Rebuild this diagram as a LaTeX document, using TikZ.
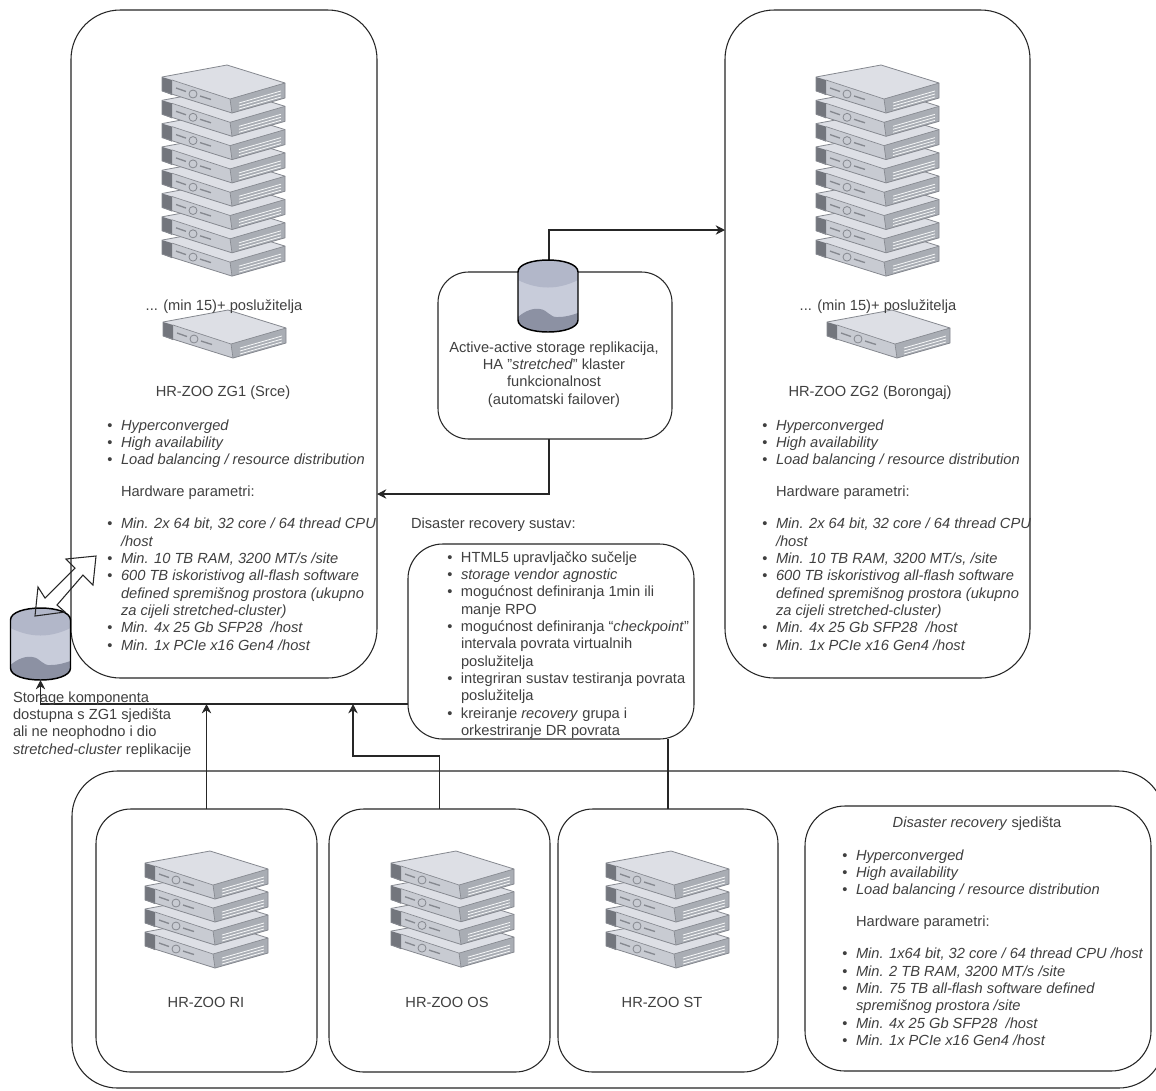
\documentclass[tikz,border=0pt]{standalone}
\usepackage{fontspec}
\setmainfont{Liberation Sans}
\usetikzlibrary{arrows.meta}
\definecolor{txt}{HTML}{404040}
\definecolor{srvtop}{HTML}{DDDFE5}
\definecolor{srvface}{HTML}{C8CBD2}
\definecolor{srvside}{HTML}{A9ADB4}
\definecolor{srvedge}{HTML}{85888F}
\definecolor{srvear}{HTML}{73767D}
\definecolor{cylmid}{HTML}{C8CCDA}
\definecolor{cyltop}{HTML}{B2B7C9}
\definecolor{cylbot}{HTML}{8C91A3}
\tikzset{
  boxstyle/.style={draw=black!85,line width=0.8pt,fill=white,inner sep=0pt,outer sep=0pt},
  conn/.style={draw=black!85,line width=0.8pt},
  arr/.style={conn,-{Stealth[length=7pt,width=7pt]}},
  label/.style={font=\fontsize{11}{13}\selectfont,text=txt,inner sep=0pt,outer sep=0pt},
  block/.style={label,align=left,anchor=north west},
  cblock/.style={label,align=center}
}
\newcommand{\bx}[6]{\node[boxstyle,rounded corners=#6pt,minimum width={(#4-#2)*0.75pt},minimum height={(#5-#3)*0.75pt}] (#1) at ({(#2+#4)/2},{(#3+#5)/2}) {};}
\newcommand{\bl}[1]{\leavevmode\llap{\textbullet\hspace{6.4pt}}\strut\textit{#1}}
\newcommand{\srv}[2]{%
\begin{scope}[shift={(#1,#2)}]
 \fill[srvtop] (-65,12)--(0,0)--(58,18)--(3,34)--cycle;
 \fill[srvface] (-65,12)--(3,34)--(5,48)--(-65,26)--cycle;
 \fill[srvside] (3,34)--(58,18)--(58,33)--(5,48)--cycle;
 \fill[srvear] (-65,12)--(-55,15)--(-55,30)--(-65,26)--cycle;
 \draw[srvedge,line width=0.6pt,line join=round] (-65,12)--(0,0)--(58,18)--(58,33)--(5,48)--(-65,26)--cycle;
 \draw[srvedge,line width=0.5pt] (-55,15)--(3,34)--(58,18) (3,34)--(5,48);
 \draw[white!90!srvside,line width=0.6pt] (12,38)--(54,26) (12,41)--(54,29) (12,44)--(54,32);
 \draw[srvedge,line width=0.6pt,fill=srvface] (-34,29) circle[radius=4];
 \draw[srvedge,line width=1pt] (-51,23)--(-41,26.5) (-27,31)--(-16,34.5);
\end{scope}}
\newcommand{\srvstack}[4]{\foreach \i in {#4,...,0}{\pgfmathsetmacro{\yy}{#2+\i*#3}\srv{#1}{\yy}}}
\newcommand{\srvstackb}[3]{\foreach \i in {3,2,1,0}{\pgfmathsetmacro{\yy}{#2+\i*#3}\srv{#1}{\yy}}}
\newcommand{\cyl}[2]{%
\begin{scope}[shift={(#1,#2)}]
 \begin{scope}
  \clip (0,12) .. controls (0,-4) and (60,-4) .. (60,12) -- (60,60) .. controls (60,76) and (0,76) .. (0,60) -- cycle;
  \fill[cylmid] (0,-2) rectangle (60,74);
  \fill[cyltop] (0,-2) rectangle (60,20) (0,20) .. controls (20,30) and (40,30) .. (60,20) -- cycle;
  \fill[cylbot] (0,57) .. controls (8,50) and (16,48) .. (22,49) .. controls (30,50) and (32,58) .. (40,57) .. controls (48,57) and (54,55) .. (60,53) -- (60,74) -- (0,74) -- cycle;
 \end{scope}
 \draw[black,line width=1.1pt] (0,12) .. controls (0,-4) and (60,-4) .. (60,12) -- (60,60) .. controls (60,76) and (0,76) .. (0,60) -- cycle;
\end{scope}}
\begin{document}
\begin{tikzpicture}[x=0.75pt,y=-0.75pt]
\useasboundingbox (0,0) rectangle (1156,1090);
\fill[white] (0,0) rectangle (1156,1090);
% boxes
\bx{zgone}{71}{10}{377}{678}{37}
\bx{zgtwo}{725}{10}{1030}{678}{37}
\bx{rep}{438}{272}{672}{439}{23}
\bx{drb}{408}{544}{694}{739}{26}
\bx{outer}{72}{771}{1164}{1088}{34}
\bx{ri}{96}{809}{317}{1072}{26}
\bx{os}{329}{809}{550}{1072}{26}
\bx{st}{558}{809}{778}{1072}{26}
\bx{drs}{805}{806}{1151}{1071}{30}
% servers
\srvstack{227}{65}{23.3}{7}
\srv{228}{310}
\srvstack{881}{65}{23.3}{7}
\srv{892}{310}
\srvstackb{210}{851}{23}
\srvstackb{456}{851}{22.7}
\srvstackb{671}{851}{23}
% anchors for storage and connectors
\node[inner sep=0pt,outer sep=0pt,minimum width=45pt,minimum height=54pt] (cylrep) at (549,296) {};
\node[inner sep=0pt,outer sep=0pt,minimum width=45pt,minimum height=54pt] (cylzg) at (40.5,644) {};
\coordinate (bus) at (0,704);
\coordinate (repup) at (0,230);
\coordinate (repdown) at (0,494);
\coordinate (oshop) at (0,756);
\coordinate (osbus) at (353,0);
% connectors
\draw[arr] (cylrep.north) |- (zgtwo.west |- repup);
\draw[arr] (cylrep.south |- rep.south) |- (zgone.east |- repdown);
\draw[arr] (drb.west |- bus) -| (cylzg.south);
\draw[arr] (ri.north) -- (ri.north |- bus);
\draw[arr] (os.north) |- (osbus |- oshop) -- (osbus |- bus);
\draw[conn] (st.north) -- (st.north |- drb.south);
\cyl{518}{260}
\cyl{10.5}{608}
% double hollow arrow
\draw[black!85,line width=0.8pt,line join=miter] (96,556)--(66,559)--(75,568)--(45,598)--(38,587)--(35,616)--(65,612)--(57,605)--(83,575)--(93,585)--cycle;
% labels
\node[cblock] (minone) at (224,307) {... (min 15)+ poslužitelja};
\node[cblock] (mintwo) at (878,307) {... (min 15)+ poslužitelja};
\node[cblock] (nameone) at (223,393) {HR-ZOO ZG1 (Srce)};
\node[cblock] (nametwo) at (870,393) {HR-ZOO ZG2 (Borongaj)};
\node[block] (listone) at (121,418) {\bl{Hyperconverged}\\\bl{High availability}\\\bl{Load balancing / resource distribution}\\[11pt]\strut Hardware parametri:\\[11pt]\bl{Min. 2x 64 bit, 32 core / 64 thread CPU}\\\strut\textit{/host}\\\bl{Min. 10 TB RAM, 3200 MT/s /site}\\\bl{600 TB iskoristivog all-flash software}\\\strut\textit{defined spremišnog prostora (ukupno}\\\strut\textit{za cijeli stretched-cluster)}\\\bl{Min. 4x 25 Gb SFP28~ /host}\\\bl{Min. 1x PCIe x16 Gen4 /host}};
\node[block] (listtwo) at (776,418) {\bl{Hyperconverged}\\\bl{High availability}\\\bl{Load balancing / resource distribution}\\[11pt]\strut Hardware parametri:\\[11pt]\bl{Min. 2x 64 bit, 32 core / 64 thread CPU}\\\strut\textit{/host}\\\bl{Min. 10 TB RAM, 3200 MT/s, /site}\\\bl{600 TB iskoristivog all-flash software}\\\strut\textit{defined spremišnog prostora (ukupno}\\\strut\textit{za cijeli stretched-cluster)}\\\bl{Min. 4x 25 Gb SFP28~ /host}\\\bl{Min. 1x PCIe x16 Gen4 /host}};
\node[cblock,anchor=north] (reptext) at (554,340) {\strut Active-active storage replikacija,\\\strut HA "\textit{stretched}" klaster\\\strut funkcionalnost\\\strut (automatski failover)};
\node[label,anchor=west] (drtitle) at (411,525) {Disaster recovery sustav:};
\node[block] (drlist) at (461,550) {\leavevmode\llap{\textbullet\hspace{6.4pt}}\strut HTML5 upravljačko sučelje\\\bl{storage vendor agnostic}\\\leavevmode\llap{\textbullet\hspace{6.4pt}}\strut mogućnost definiranja 1min ili\\\strut manje RPO\\\leavevmode\llap{\textbullet\hspace{6.4pt}}\strut mogućnost definiranja “\textit{checkpoint}”\\\strut intervala povrata virtualnih\\\strut poslužitelja\\\leavevmode\llap{\textbullet\hspace{6.4pt}}\strut integriran sustav testiranja povrata\\\strut poslužitelja\\\leavevmode\llap{\textbullet\hspace{6.4pt}}\strut kreiranje \textit{recovery} grupa i\\\strut orkestriranje DR povrata};
\node[block] (storagetext) at (13,690) {\strut Storage komponenta\\\strut dostupna s ZG1 sjedišta\\\strut ali ne neophodno i dio\\\strut\textit{stretched-cluster} replikacije};
\node[cblock] (riname) at (206,1002) {HR-ZOO RI};
\node[cblock] (osname) at (447,1002) {HR-ZOO OS};
\node[cblock] (stname) at (662,1002) {HR-ZOO ST};
\node[cblock] (drstitle) at (977,824) {\textit{Disaster recovery} sjedišta};
\node[block] (drslist) at (856,848) {\bl{Hyperconverged}\\\bl{High availability}\\\bl{Load balancing / resource distribution}\\[11pt]\strut Hardware parametri:\\[11pt]\bl{Min. 1x64 bit, 32 core / 64 thread CPU /host}\\\bl{Min. 2 TB RAM, 3200 MT/s /site}\\\bl{Min. 75 TB all-flash software defined}\\\strut\textit{spremišnog prostora /site}\\\bl{Min. 4x 25 Gb SFP28~ /host}\\\bl{Min. 1x PCIe x16 Gen4 /host}};
\end{tikzpicture}
\end{document}
